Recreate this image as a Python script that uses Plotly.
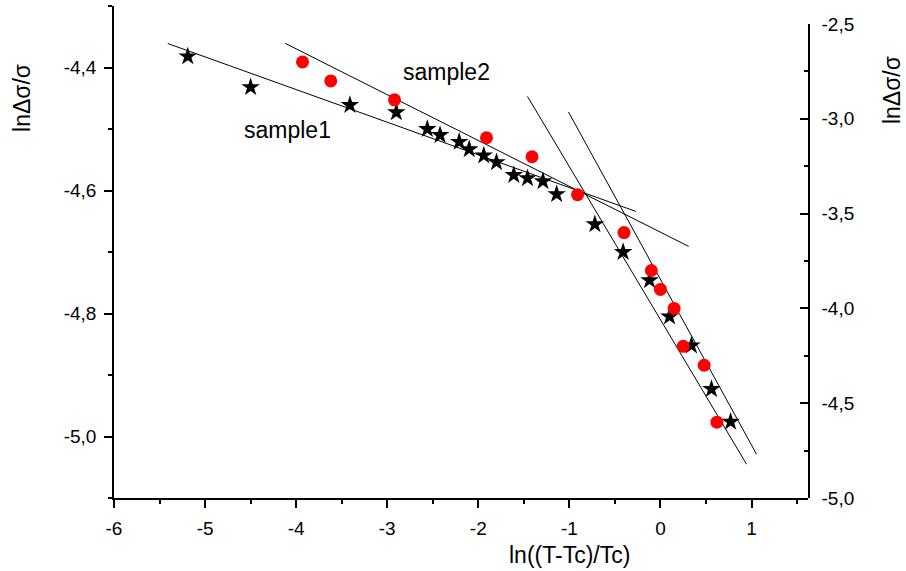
import plotly.graph_objects as go

# sample1 (stars, left axis)
s1_x = [-5.19, -4.50, -3.41, -2.90, -2.56, -2.42, -2.21, -2.10, -1.94, -1.80, -1.61,
        -1.46, -1.29, -1.14, -0.72, -0.41, -0.12, 0.10, 0.34, 0.56, 0.77]
s1_y = [-4.382, -4.432, -4.461, -4.473, -4.500, -4.510, -4.521, -4.533, -4.543, -4.554, -4.575,
        -4.580, -4.585, -4.606, -4.655, -4.700, -4.746, -4.805, -4.852, -4.923, -4.976]

# sample2 (red circles, right axis)
s2_x = [-3.93, -3.62, -2.92, -1.91, -1.41, -0.91, -0.40, -0.10, 0.00, 0.15, 0.25, 0.48, 0.62]
s2_y = [-2.70, -2.80, -2.90, -3.10, -3.20, -3.40, -3.60, -3.80, -3.90, -4.00, -4.20, -4.30, -4.60]

# fit lines: (x0, x1, y0, y1)
fit1_low = (-5.41, -0.27, -4.361, -4.634)
fit1_high = (-1.46, 0.945, -4.447, -5.045)
fit2_low = (-4.12, 0.31, -2.602, -3.673)
fit2_high = (-1.01, 1.055, -2.964, -4.769)

x_ticks = [-6, -5, -4, -3, -2, -1, 0, 1]
x_labels = ["-6", "-5", "-4", "-3", "-2", "-1", "0", "1"]
yl_ticks = [-5.0, -4.8, -4.6, -4.4]
yl_labels = ["-5,0", "-4,8", "-4,6", "-4,4"]
yr_ticks = [-5.0, -4.5, -4.0, -3.5, -3.0, -2.5]
yr_labels = ["-5,0", "-4,5", "-4,0", "-3,5", "-3,0", "-2,5"]

fnt = "Liberation Sans, Arial, sans-serif"

fig = go.Figure()

for ln, ax in [(fit1_low, "y"), (fit1_high, "y"), (fit2_low, "y2"), (fit2_high, "y2")]:
    fig.add_trace(go.Scatter(x=[ln[0], ln[1]], y=[ln[2], ln[3]], yaxis=ax, mode="lines",
                             line=dict(color="black", width=1), showlegend=False))

fig.add_trace(go.Scatter(x=s2_x, y=s2_y, yaxis="y2", mode="markers",
                         marker=dict(symbol="circle", size=13, color="#ff0000"),
                         showlegend=False))
fig.add_trace(go.Scatter(x=s1_x, y=s1_y, mode="markers",
                         marker=dict(symbol="star", size=14, color="black"),
                         showlegend=False))

axis_common = dict(showline=True, linecolor="black", linewidth=1.5, showgrid=False,
                   zeroline=False, tickcolor="black", tickwidth=1.5, ticklen=8,
                   automargin=False,
                   tickfont=dict(family=fnt, size=19, color="black"))

lbl = dict(family=fnt, size=23, color="black")

fig.update_layout(
    width=906, height=571,
    margin=dict(l=114, r=98, t=6, b=73),
    plot_bgcolor="rgba(0,0,0,0)", paper_bgcolor="white",
    xaxis=dict(range=[-6, 1.62], tickmode="array", tickvals=x_ticks, ticktext=x_labels,
               ticks="outside", ticklabelstandoff=4,
               minor=dict(dtick=0.5, tick0=0, ticks="outside", ticklen=4,
                          tickcolor="black", tickwidth=1.5),
               **axis_common),
    yaxis=dict(range=[-5.1, -4.3], tickmode="array", tickvals=yl_ticks, ticktext=yl_labels,
               ticks="outside", ticklabelstandoff=4,
               minor=dict(dtick=0.1, tick0=0, ticks="outside", ticklen=4,
                          tickcolor="black", tickwidth=1.5),
               **axis_common),
    yaxis2=dict(range=[-5.0, -2.5], domain=[0, 0.9634], anchor="x", side="right",
                tickmode="array", tickvals=yr_ticks, ticktext=yr_labels,
                ticks="inside", ticklabelstandoff=8,
                minor=dict(dtick=0.25, tick0=0, ticks="inside", ticklen=4,
                           tickcolor="black", tickwidth=1.5),
                **axis_common),
    annotations=[
        dict(text="sample2", x=-2.35, y=-4.407, xref="x", yref="y", showarrow=False,
             xanchor="center", yanchor="middle", font=lbl),
        dict(text="sample1", x=-4.09, y=-4.502, xref="x", yref="y", showarrow=False,
             xanchor="center", yanchor="middle", font=lbl),
        dict(text="ln((T-Tc)/Tc)", x=0.657, y=-0.116, xref="paper", yref="paper",
             xanchor="center", yanchor="middle", showarrow=False, font=lbl),
        dict(text="lnΔσ/σ", x=-0.1326, y=0.813, xref="paper", yref="paper", textangle=-90,
             xanchor="center", yanchor="middle", showarrow=False, font=lbl),
        dict(text="lnΔσ/σ", x=1.121, y=0.829, xref="paper", yref="paper", textangle=-90,
             xanchor="center", yanchor="middle", showarrow=False, font=lbl),
    ],
)

fig.write_html("out.html", config={"displayModeBar": False},
               post_script="document.body.style.margin='0';")
